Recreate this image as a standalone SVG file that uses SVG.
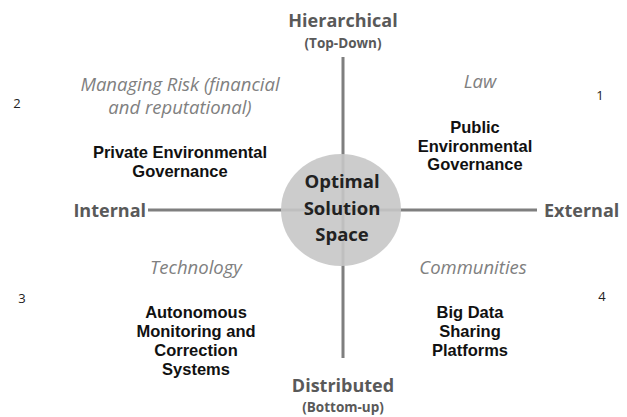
<svg xmlns="http://www.w3.org/2000/svg" width="627" height="417" viewBox="0 0 627 417">
<style>
text{font-family:"Open Sans","Noto Sans","DejaVu Sans",sans-serif;text-anchor:middle}
.axis{font-weight:bold;font-size:18px;fill:#595959}
.sub{font-weight:bold;font-size:13.5px;fill:#595959}
.cat{font-style:italic;font-size:18.5px;fill:#808080}
.lbl{font-family:"Liberation Sans",Arial,sans-serif;font-weight:bold;font-size:16.5px;fill:#111}
.num{font-size:13px;fill:#222}
.ctr{font-weight:bold;font-size:18.5px;fill:#222}
.ln{stroke:#7f7f7f;stroke-width:3;fill:none}
</style>
<rect width="627" height="417" fill="#fff"/>
<g id="connectors">
<line class="ln" x1="343" y1="57" x2="343" y2="358"/>
<line class="ln" x1="148" y1="210" x2="537" y2="210"/>
</g>
<g id="center">
<ellipse cx="341" cy="210" rx="60" ry="56" fill="#c6c6c6" fill-opacity="0.9"/>
<text class="ctr" x="342" y="188">Optimal</text>
<text class="ctr" x="342" y="215">Solution</text>
<text class="ctr" x="342" y="241">Space</text>
</g>
<g id="top-axis">
<text class="axis" x="343" y="27">Hierarchical</text>
<text class="sub" x="343" y="48">(Top-Down)</text>
</g>
<g id="bottom-axis">
<text class="axis" x="343" y="392">Distributed</text>
<text class="sub" x="343" y="412">(Bottom-up)</text>
</g>
<g id="left-axis">
<text class="axis" x="146" y="217" style="text-anchor:end">Internal</text>
</g>
<g id="right-axis">
<text class="axis" x="544" y="217" style="text-anchor:start">External</text>
</g>
<g id="q1">
<text class="cat" x="480" y="88">Law</text>
<text class="lbl" x="475" y="133">Public</text>
<text class="lbl" x="475" y="151.5">Environmental</text>
<text class="lbl" x="475" y="170">Governance</text>
<text class="num" x="600" y="100">1</text>
</g>
<g id="q2">
<text class="cat" x="180" y="91">Managing Risk (financial</text>
<text class="cat" x="180" y="114">and reputational)</text>
<text class="lbl" x="180" y="158">Private Environmental</text>
<text class="lbl" x="180" y="177">Governance</text>
<text class="num" x="17" y="108">2</text>
</g>
<g id="q3">
<text class="cat" x="196" y="274">Technology</text>
<text class="lbl" x="196" y="318">Autonomous</text>
<text class="lbl" x="196" y="337">Monitoring and</text>
<text class="lbl" x="196" y="356">Correction</text>
<text class="lbl" x="196" y="375">Systems</text>
<text class="num" x="22" y="303">3</text>
</g>
<g id="q4">
<text class="cat" x="473" y="274">Communities</text>
<text class="lbl" x="470" y="318">Big Data</text>
<text class="lbl" x="470" y="337">Sharing</text>
<text class="lbl" x="470" y="356">Platforms</text>
<text class="num" x="602" y="301">4</text>
</g>
</svg>
